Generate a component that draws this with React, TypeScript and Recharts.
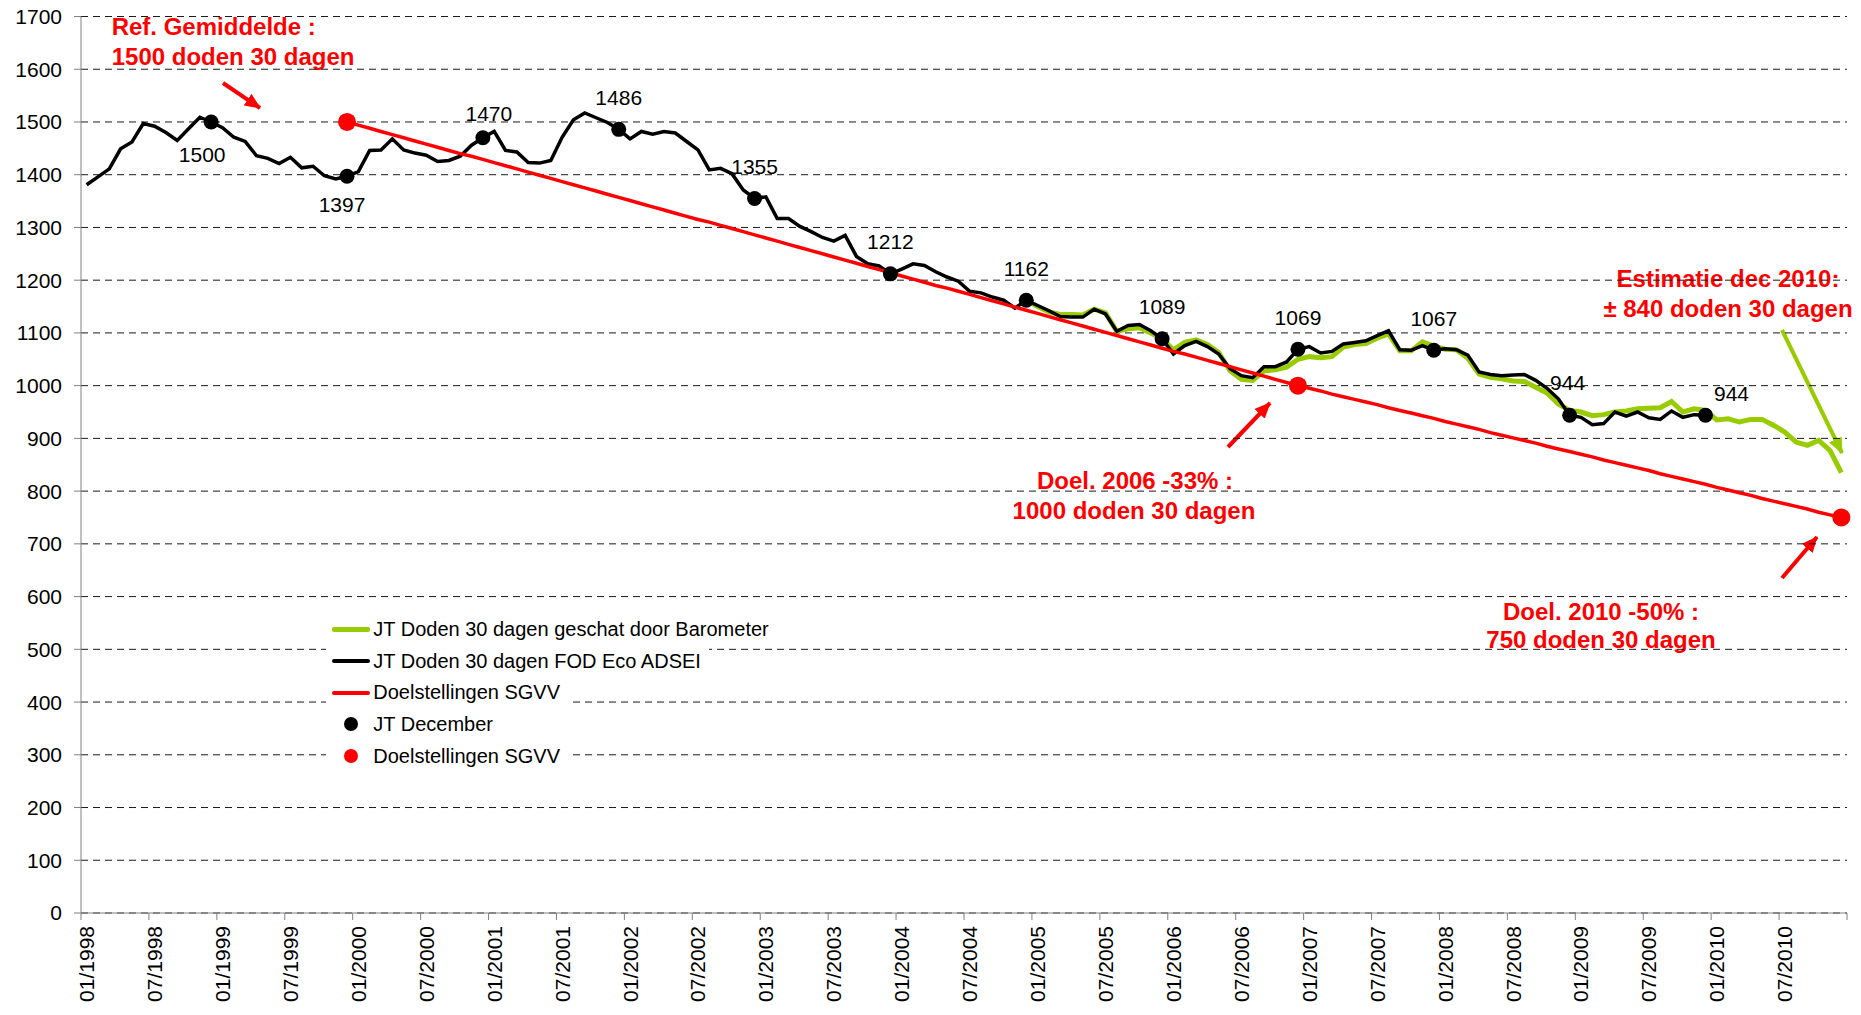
import React from 'react';
import {
  ComposedChart,
  Line,
  XAxis,
  YAxis,
  CartesianGrid,
  Legend,
} from 'recharts';

const tickLabels = [
  '01/1998', '07/1998', '01/1999', '07/1999', '01/2000', '07/2000',
  '01/2001', '07/2001', '01/2002', '07/2002', '01/2003', '07/2003',
  '01/2004', '07/2004', '01/2005', '07/2005', '01/2006', '07/2006',
  '01/2007', '07/2007', '01/2008', '07/2008', '01/2009', '07/2009',
  '01/2010', '07/2010',
];

// 01/1998 .. 12/2009, FOD Eco ADSEI
const fodValues = [
  1381, 1396, 1411, 1449, 1462, 1497, 1492, 1480, 1465, 1487, 1509, 1500,
  1489, 1471, 1463, 1436, 1431, 1421, 1433, 1413, 1416, 1398, 1392, 1397,
  1406, 1446, 1447, 1468, 1447, 1441, 1437, 1425, 1427, 1435, 1456, 1470,
  1482, 1446, 1443, 1423, 1422, 1427, 1471, 1504, 1517, 1508, 1499, 1486,
  1468, 1482, 1477, 1482, 1479, 1463, 1447, 1409, 1412, 1402, 1371, 1355,
  1358, 1317, 1317, 1302, 1292, 1281, 1274, 1285, 1245, 1231, 1227, 1212,
  1221, 1231, 1228, 1216, 1206, 1198, 1179, 1176, 1168, 1162, 1147, 1162,
  1152, 1142, 1131, 1130, 1130, 1145, 1136, 1103, 1114, 1116, 1104, 1089,
  1060, 1076, 1084, 1074, 1060, 1032, 1019, 1015, 1036, 1036, 1045, 1069,
  1074, 1062, 1065, 1079, 1082, 1085, 1095, 1104, 1068, 1067, 1076, 1067,
  1070, 1068, 1058, 1026, 1021, 1019, 1020, 1021, 1010, 995, 975, 944,
  940, 926, 928, 950, 942, 950, 939, 936, 952, 940, 945, 944,
];

// 12/2004 .. 12/2010, Barometer
const baroStart = 83;
const baroValues = [
  1162,
  1150, 1140, 1135, 1135, 1134, 1145, 1138, 1103, 1108, 1110, 1100, 1089,
  1068, 1082, 1087, 1078, 1063, 1028, 1012, 1010, 1028, 1030, 1035, 1050,
  1055, 1053, 1055, 1073, 1078, 1080, 1090, 1098, 1066, 1066, 1083, 1075,
  1069, 1068, 1052, 1022, 1016, 1013, 1009, 1008, 997, 986, 965, 953,
  950, 943, 945, 950, 952, 956, 957, 958, 970, 950, 956, 953,
  935, 937, 931, 936, 936, 925, 912, 893, 887, 896, 877, 835,
];

// 12/1999 .. 12/2010, Doelstellingen SGVV
const doelStart = 23;
const doelValues = [
  1500,
  1494, 1488, 1482, 1476, 1470, 1464, 1458, 1452, 1446, 1440, 1435, 1429,
  1423, 1417, 1411, 1405, 1399, 1393, 1387, 1381, 1375, 1369, 1363, 1357,
  1351, 1345, 1339, 1333, 1327, 1321, 1315, 1310, 1304, 1298, 1292, 1286,
  1280, 1274, 1268, 1262, 1256, 1250, 1244, 1238, 1232, 1226, 1220, 1214,
  1208, 1202, 1196, 1190, 1185, 1179, 1173, 1167, 1161, 1155, 1149, 1143,
  1137, 1131, 1125, 1119, 1113, 1107, 1101, 1095, 1089, 1083, 1077, 1071,
  1065, 1060, 1054, 1048, 1042, 1036, 1030, 1024, 1018, 1012, 1006, 1000,
  995, 990, 984, 979, 974, 969, 964, 958, 953, 948, 943, 938,
  932, 927, 922, 917, 911, 906, 901, 896, 891, 885, 880, 875,
  870, 865, 859, 854, 849, 844, 839, 833, 828, 823, 818, 813,
  807, 802, 797, 792, 786, 781, 776, 771, 766, 760, 755, 750,
];

const decIndex = [11, 23, 35, 47, 59, 71, 83, 95, 107, 119, 131, 143];
const decValues = [1500, 1397, 1470, 1486, 1355, 1212, 1162, 1089, 1069, 1067, 944, 944];

const targetIndex = [23, 107, 155];
const targetValues = [1500, 1000, 750];

const monthCount = 156;

const data = Array.from({ length: monthCount }, (_, i) => {
  const d = decIndex.indexOf(i);
  const t = targetIndex.indexOf(i);
  return {
    x: i + 0.5,
    fod: i < fodValues.length ? fodValues[i] : null,
    baro: i >= baroStart ? baroValues[i - baroStart] : null,
    doel: i >= doelStart ? doelValues[i - doelStart] : null,
    dec: d >= 0 ? decValues[d] : null,
    target: t >= 0 ? targetValues[t] : null,
  };
});

const W = 1861;
const H = 1015;
const MARGIN = { top: 16.5, right: 14, bottom: 10, left: 11 };
const Y_AXIS_W = 70;
const X_AXIS_H = 92;
const plotW = W - MARGIN.left - MARGIN.right - Y_AXIS_W;
const halfCat = plotW / monthCount / 2;

const FONT = '"Liberation Sans", Arial, Helvetica, sans-serif';
const RED = '#FF0000';
const GREEN = '#99CC00';

const xTicks = Array.from({ length: 27 }, (_, k) => k * 6);
const yTicks = Array.from({ length: 18 }, (_, k) => k * 100);

function MonthTick({ x, y, payload }: any) {
  const label = tickLabels[payload.value / 6];
  if (!label) return <g />;
  return (
    <text
      transform={`translate(${x + halfCat},${y + 4}) rotate(-90)`}
      textAnchor="end"
      dominantBaseline="central"
      fontSize={21}
      fill="#000"
    >
      {label}
    </text>
  );
}

const labelShift: Record<number, [number, number]> = {
  11: [-9, 33],
  23: [-5, 28],
  35: [6, -24],
  131: [-2, -33],
  143: [26, -22],
};

function DecDot(props: any) {
  const { cx, cy, index, payload } = props;
  if (payload?.dec == null || cx == null || cy == null) return <g key={`dec-${index}`} />;
  const [dx, dy] = labelShift[index] ?? [0, -32];
  return (
    <g key={`dec-${index}`}>
      <circle cx={cx} cy={cy} r={7.5} fill="#000" />
      <text
        x={cx + dx}
        y={cy + dy}
        textAnchor="middle"
        dominantBaseline="central"
        fontSize={21}
        fill="#000"
      >
        {payload.dec}
      </text>
    </g>
  );
}

function TargetDot(props: any) {
  const { cx, cy, index, payload } = props;
  if (payload?.target == null || cx == null || cy == null) return <g key={`t-${index}`} />;
  return <circle key={`t-${index}`} cx={cx} cy={cy} r={9} fill={RED} />;
}

const legendRows = [
  { label: 'JT Doden 30 dagen geschat door Barometer', color: GREEN, kind: 'line', w: 5, pad: 24 },
  { label: 'JT Doden 30 dagen FOD Eco ADSEI', color: '#000', kind: 'line', w: 4, pad: 8 },
  { label: 'Doelstellingen SGVV', color: RED, kind: 'line', w: 4, pad: 8 },
  { label: 'JT December', color: '#000', kind: 'dot', w: 0, pad: 8 },
  { label: 'Doelstellingen SGVV', color: RED, kind: 'dot', w: 0, pad: 8 },
];

function LegendBox() {
  return (
    <div style={{ fontFamily: FONT, fontSize: 20, color: '#000' }}>
      {legendRows.map((r, k) => (
        <div
          key={k}
          style={{
            display: 'flex',
            alignItems: 'center',
            width: 'fit-content',
            height: 31.7,
            background: '#fff',
            paddingLeft: 5.7,
            paddingRight: r.pad,
            whiteSpace: 'nowrap',
          }}
        >
          <div style={{ width: 38.3, marginRight: 3.3, display: 'flex', justifyContent: 'center' }}>
            {r.kind === 'line' ? (
              <div style={{ width: 38.3, height: r.w, background: r.color, borderRadius: 2 }} />
            ) : (
              <div style={{ width: 14, height: 14, borderRadius: 7, background: r.color }} />
            )}
          </div>
          <span>{r.label}</span>
        </div>
      ))}
    </div>
  );
}

function Annotations() {
  const t = { fill: RED, fontWeight: 700, fontSize: 24, fontFamily: FONT } as const;
  return (
    <svg width={W} height={H} style={{ position: 'absolute', left: 0, top: 0 }}>
      <defs>
        <marker id="headRed" markerUnits="userSpaceOnUse" markerWidth={16} markerHeight={14} refX={15} refY={7} orient="auto">
          <path d="M0,0 L16,7 L0,14 Z" fill={RED} />
        </marker>
        <marker id="headGreen" markerUnits="userSpaceOnUse" markerWidth={16} markerHeight={14} refX={15} refY={7} orient="auto">
          <path d="M0,0 L16,7 L0,14 Z" fill={GREEN} />
        </marker>
      </defs>

      <text x={111.7} y={34.5} {...t}>Ref. Gemiddelde :</text>
      <text x={111.7} y={64.5} {...t}>1500 doden 30 dagen</text>
      <line x1={223} y1={83} x2={260} y2={108} stroke={RED} strokeWidth={4} markerEnd="url(#headRed)" />

      <text x={1135} y={488.5} textAnchor="middle" {...t}>Doel. 2006 -33% :</text>
      <text x={1134} y={518.5} textAnchor="middle" {...t}>1000 doden 30 dagen</text>
      <line x1={1228} y1={447} x2={1270} y2={403} stroke={RED} strokeWidth={4} markerEnd="url(#headRed)" />

      <text x={1728} y={286.5} textAnchor="middle" {...t}>Estimatie dec 2010:</text>
      <text x={1728} y={316.5} textAnchor="middle" {...t}>± 840 doden 30 dagen</text>
      <line x1={1782} y1={330} x2={1842} y2={453} stroke={GREEN} strokeWidth={4} markerEnd="url(#headGreen)" />

      <text x={1601} y={619.5} textAnchor="middle" {...t}>Doel. 2010 -50% :</text>
      <text x={1601} y={647.5} textAnchor="middle" {...t}>750 doden 30 dagen</text>
      <line x1={1782} y1={578} x2={1817} y2={537} stroke={RED} strokeWidth={4} markerEnd="url(#headRed)" />
    </svg>
  );
}

export default function App() {
  return (
    <div style={{ position: 'absolute', left: 0, top: 0, width: W, height: H, background: '#fff', fontFamily: FONT }}>
      <Annotations />
      <div style={{ position: 'absolute', left: 0, top: 0 }}>
        <ComposedChart width={W} height={H} data={data} margin={MARGIN}>
          <CartesianGrid
            vertical={false}
            stroke="#1a1a1a"
            strokeDasharray="7 5"
          />
          <XAxis
            type="number"
            dataKey="x"
            domain={[0, monthCount]}
            ticks={xTicks}
            interval={0}
            height={X_AXIS_H}
            tickSize={7}
            stroke="#808080"
            tick={<MonthTick />}
          />
          <YAxis
            type="number"
            domain={[0, 1700]}
            ticks={yTicks}
            interval={0}
            width={Y_AXIS_W}
            tickSize={7}
            tickMargin={12}
            stroke="#808080"
            tick={{ fontSize: 21, fill: '#000' }}
          />
          <Legend
            layout="vertical"
            align="center"
            verticalAlign="middle"
            wrapperStyle={{ left: 326, top: 613.5, width: 'auto', height: 'auto' }}
            content={() => <LegendBox />}
          />
          <Line
            dataKey="baro"
            stroke={GREEN}
            strokeWidth={5}
            dot={false}
            activeDot={false}
            isAnimationActive={false}
          />
          <Line
            dataKey="fod"
            stroke="#000"
            strokeWidth={3.5}
            dot={false}
            activeDot={false}
            isAnimationActive={false}
          />
          <Line
            dataKey="doel"
            stroke={RED}
            strokeWidth={3.5}
            dot={false}
            activeDot={false}
            isAnimationActive={false}
          />
          <Line
            dataKey="dec"
            stroke="none"
            dot={DecDot}
            activeDot={false}
            isAnimationActive={false}
          />
          <Line
            dataKey="target"
            stroke="none"
            dot={TargetDot}
            activeDot={false}
            isAnimationActive={false}
          />
        </ComposedChart>
      </div>
    </div>
  );
}
